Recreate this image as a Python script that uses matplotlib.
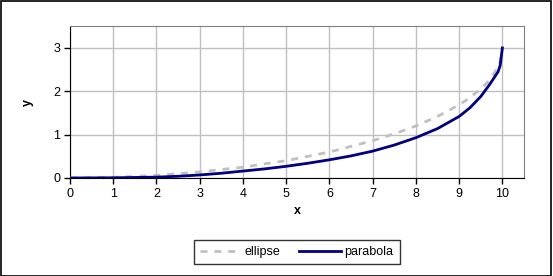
import numpy as np
import matplotlib
matplotlib.use("Agg")
import matplotlib.pyplot as plt
from matplotlib.patches import Rectangle

plt.rcParams['font.family'] = ['Liberation Sans', 'DejaVu Sans']

# values
ellipse_x = [0, 1, 2, 3, 4, 5, 6, 7, 7.5, 8, 8.5, 9, 9.25, 9.5, 9.65, 9.8, 9.9, 9.95, 10.0]
ellipse_y = [0, 0.015, 0.06, 0.14, 0.25, 0.4, 0.6, 0.86, 1.02, 1.2, 1.42, 1.69, 1.85, 2.06, 2.2, 2.4, 2.58, 2.7, 3.0]

parabola_x = [0, 1, 2, 2.5, 3, 3.5, 4, 4.5, 5, 5.5, 6, 6.5, 7, 7.5, 8, 8.5, 9, 9.25, 9.5, 9.7, 9.8, 9.9, 9.95, 10.0]
parabola_y = [0, 0.005, 0.02, 0.04, 0.07, 0.11, 0.16, 0.21, 0.27, 0.34, 0.42, 0.51, 0.62, 0.76, 0.93, 1.14, 1.42, 1.62, 1.88, 2.15, 2.3, 2.45, 2.6, 3.0]

x_ticks = list(range(0, 11))
y_ticks = [0, 1, 2, 3]

fig = plt.figure(figsize=(5.53, 2.76), dpi=100)
fig.patches.append(Rectangle((0.5 / 553, 0.5 / 276), 550 / 553, 275 / 276,
                             transform=fig.transFigure, fill=False,
                             edgecolor='black', linewidth=1.2))

ax = fig.add_axes([70 / 553, 1 - 178 / 276, 454 / 553, 151.7 / 276])

ax.plot(ellipse_x, ellipse_y, color='#C0C0C0', linewidth=2, linestyle=(0, (2.5, 2.5)),
        label='ellipse', zorder=3)
ax.plot(parabola_x, parabola_y, color='#000080', linewidth=2, label='parabola', zorder=4)

ax.set_xlim(0, 10.5)
ax.set_ylim(0, 3.5)
ax.set_xticks(x_ticks)
ax.set_yticks(y_ticks)
ax.grid(True, color='#C0C0C0', linewidth=1)
ax.set_axisbelow(True)

for side in ['top', 'right']:
    ax.spines[side].set_color('#808080')
for side in ['left', 'bottom']:
    ax.spines[side].set_color('black')

ax.tick_params(direction='out', length=4, width=1, labelsize=9, pad=3)

ax.set_xlabel('x', fontsize=9, fontweight='bold', labelpad=4)
ax.set_ylabel('y', fontsize=9, fontweight='bold', labelpad=14)

leg = fig.legend(loc='upper center', bbox_to_anchor=(296.5 / 553, 1 - 233.5 / 276),
                 ncol=2, frameon=True, fontsize=9, handlelength=3.3, handletextpad=0.3,
                 columnspacing=1.5, borderpad=0.5, fancybox=False)
leg.get_frame().set_edgecolor('black')
leg.get_frame().set_linewidth(1)

fig.savefig('out.png', dpi=100)
